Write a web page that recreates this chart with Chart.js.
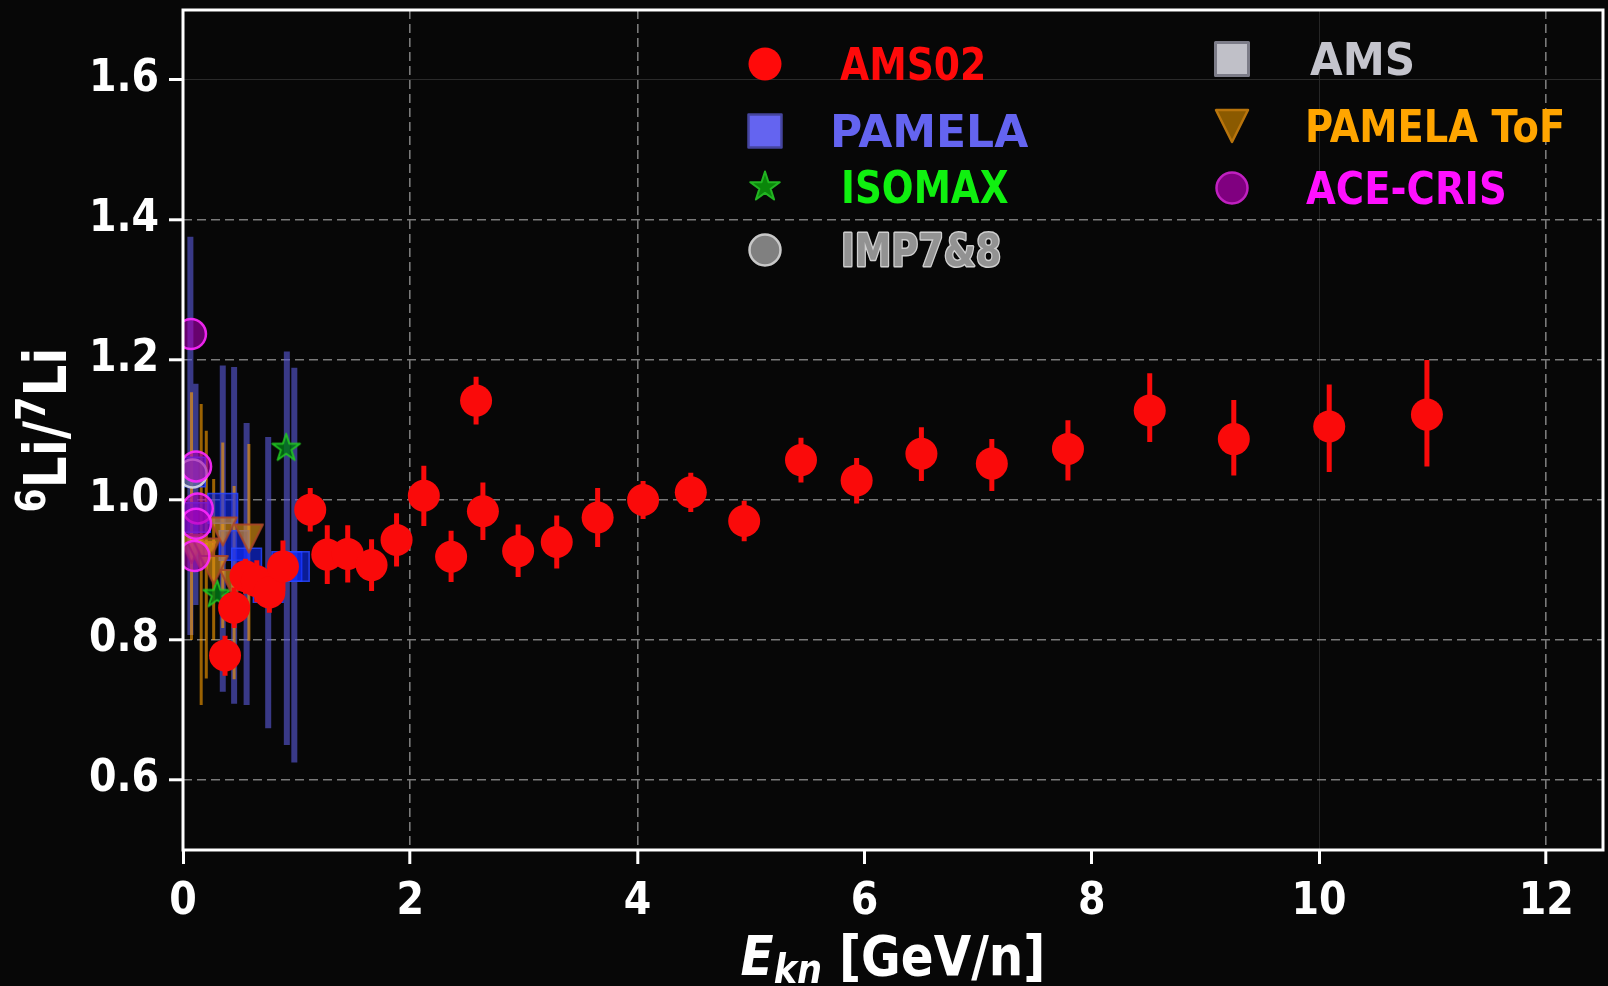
<!DOCTYPE html>
<html>
<head>
<meta charset="utf-8">
<title>6Li/7Li ratio</title>
<style>
  html, body { margin: 0; padding: 0; background: #070707; }
  #wrap { width: 1608px; height: 986px; position: relative; }
  canvas { display: block; }
</style>
<script src="https://cdn.jsdelivr.net/npm/chart.js@4.4.1/dist/chart.umd.min.js"></script>
</head>
<body>
<div id="wrap"><canvas id="chart" width="1608" height="986"></canvas></div>
<script>
// ---- measurements: kinetic energy per nucleon [GeV/n] and 6Li/7Li ----
const ams02E  = [0.37, 0.45, 0.55, 0.65, 0.76, 0.88, 1.12, 1.27, 1.45, 1.66, 1.88, 2.12, 2.36, 2.58, 2.64, 2.95, 3.29, 3.65, 4.05, 4.47, 4.94, 5.44, 5.93, 6.50, 7.12, 7.79, 8.51, 9.25, 10.09, 10.95];
const ams02R  = [0.778, 0.846, 0.891, 0.884, 0.868, 0.905, 0.986, 0.922, 0.923, 0.907, 0.943, 1.006, 0.919, 1.142, 0.984, 0.927, 0.940, 0.975, 1.000, 1.011, 0.970, 1.057, 1.028, 1.066, 1.052, 1.073, 1.128, 1.087, 1.105, 1.122];
const ams02Lo = [0.749, 0.817, 0.866, 0.854, 0.839, 0.870, 0.955, 0.880, 0.882, 0.870, 0.905, 0.963, 0.883, 1.108, 0.943, 0.890, 0.902, 0.933, 0.973, 0.983, 0.941, 1.025, 0.995, 1.027, 1.013, 1.028, 1.083, 1.035, 1.040, 1.048];
const ams02Hi = [0.806, 0.875, 0.916, 0.914, 0.897, 0.942, 1.017, 0.964, 0.964, 0.944, 0.981, 1.049, 0.956, 1.176, 1.025, 0.965, 0.978, 1.017, 1.027, 1.039, 0.999, 1.089, 1.060, 1.104, 1.087, 1.114, 1.181, 1.143, 1.165, 1.200];

const pamelaE  = [0.065, 0.11, 0.35, 0.45, 0.56, 0.75, 0.914, 0.98];
const pamelaR  = [1.040, 0.975, 0.988, 0.935, 0.910, 0.875, 0.905, 0.905];
const pamelaLo = [0.807, 0.850, 0.726, 0.709, 0.707, 0.674, 0.650, 0.625];
const pamelaHi = [1.376, 1.166, 1.192, 1.190, 1.110, 1.090, 1.212, 1.189];

const tofE  = [0.075, 0.16, 0.205, 0.27, 0.35, 0.45, 0.58];
const tofR  = [0.930, 0.920, 0.925, 0.900, 0.955, 0.880, 0.945];
const tofLo = [0.800, 0.707, 0.745, 0.800, 0.817, 0.744, 0.799];
const tofHi = [1.154, 1.137, 1.099, 1.030, 1.082, 1.020, 1.080];

const isomaxE = [0.30, 0.908];
const isomaxR = [0.865, 1.074];

const aceE = [0.07, 0.115, 0.13, 0.115, 0.10];
const aceR = [1.237, 1.048, 0.988, 0.966, 0.920];

const impE = [0.085];
const impR = [1.038];

const ams01E = [];
const ams01R = [];

// ---- axes ----
const xTicks = [0, 2, 4, 6, 8, 10, 12];
const yTicks = [0.6, 0.8, 1.0, 1.2, 1.4, 1.6];
const xDashed = [2, 4, 12];
const xFaint  = [10];
const yDashed = [0.6, 0.8, 1.0, 1.2, 1.4];
const yFaint  = [1.6];

// ---- helpers ----
const points = (xs, ys) => xs.map((x, i) => ({ x: x, y: ys[i] }));
// vertical error segments, separated by gaps
const errSegments = (xs, lo, hi) => xs.flatMap((x, i) => [{ x: x, y: lo[i] }, { x: x, y: hi[i] }, { x: x, y: null }]);
const inList = (list, v) => list.some(t => Math.abs(t - v) < 1e-6);

function starPath(g, cx, cy, R) {
  const r = R * 0.382;
  g.beginPath();
  for (let k = 0; k < 10; k++) {
    const ang = -Math.PI / 2 + k * Math.PI / 5;
    const rad = k % 2 === 0 ? R : r;
    const px = cx + rad * Math.cos(ang), py = cy + rad * Math.sin(ang);
    k === 0 ? g.moveTo(px, py) : g.lineTo(px, py);
  }
  g.closePath();
}
function downTrianglePath(g, cx, cy, s) {
  g.beginPath();
  g.moveTo(cx - s, cy - s);
  g.lineTo(cx + s, cy - s);
  g.lineTo(cx, cy + s);
  g.closePath();
}
function squarePath(g, cx, cy, half) {
  g.beginPath();
  g.rect(cx - half, cy - half, 2 * half, 2 * half);
}
function circlePath(g, cx, cy, r) {
  g.beginPath();
  g.arc(cx, cy, r, 0, Math.PI * 2);
}
function markerImage(size, pathFn, fill, stroke, lw) {
  const c = document.createElement('canvas');
  c.width = c.height = size;
  const g = c.getContext('2d');
  pathFn(g, size / 2, size / 2);
  g.fillStyle = fill; g.fill();
  g.lineWidth = lw; g.strokeStyle = stroke; g.lineJoin = 'round'; g.stroke();
  return c;
}

const starImg = markerImage(34, (g, cx, cy) => starPath(g, cx, cy, 14.5), 'rgba(0,120,20,0.8)', 'rgba(34,200,34,0.9)', 2);
const triImg  = markerImage(34, (g, cx, cy) => downTrianglePath(g, cx, cy, 14), 'rgba(228,150,20,0.62)', 'rgba(170,70,40,0.9)', 2);

// ---- text helpers (narrow bold lettering) ----
const FAMILY = '"DejaVu Sans", "Liberation Sans", sans-serif';
function textWidth(ctx, s, font, sq) { ctx.save(); ctx.font = font; const w = ctx.measureText(s).width * sq; ctx.restore(); return w; }
function squeezed(ctx, s, x, y, font, sq, color, outline) {
  ctx.save();
  ctx.font = font;
  ctx.translate(x, y);
  ctx.scale(sq, 1);
  ctx.textBaseline = 'alphabetic';
  ctx.textAlign = 'left';
  if (outline) {
    ctx.lineWidth = outline.width;
    ctx.strokeStyle = outline.color;
    ctx.lineJoin = 'round';
    ctx.strokeText(s, 0, 0);
  }
  ctx.fillStyle = color;
  ctx.fillText(s, 0, 0);
  ctx.restore();
}

// legend placement, keyed by series label (marker centre, text start, lettering width factor)
const LEGEND_SLOTS = {
  'AMS02':      { mx: 765,  my: 64,  tx: 840,  sq: 0.857 },
  'PAMELA':     { mx: 765,  my: 131, tx: 830,  sq: 1.0 },
  'ISOMAX':     { mx: 765,  my: 187, tx: 841,  sq: 0.85 },
  'IMP7&8':     { mx: 765,  my: 250, tx: 841,  sq: 0.835 },
  'AMS':        { mx: 1232, my: 59,  tx: 1310, sq: 0.96 },
  'PAMELA ToF': { mx: 1232, my: 126, tx: 1305, sq: 0.873 },
  'ACE-CRIS':   { mx: 1232, my: 188, tx: 1306, sq: 0.877 }
};

function drawLegendMarker(ctx, m, x, y) {
  ctx.save();
  if (m.shape === 'circle') circlePath(ctx, x, y, m.size);
  else if (m.shape === 'square') squarePath(ctx, x, y, m.size);
  else if (m.shape === 'star') starPath(ctx, x, y, m.size);
  else if (m.shape === 'triangle') downTrianglePath(ctx, x, y, m.size);
  ctx.fillStyle = m.fill; ctx.fill();
  if (m.stroke) { ctx.lineWidth = m.lw || 2; ctx.strokeStyle = m.stroke; ctx.lineJoin = 'round'; ctx.stroke(); }
  ctx.restore();
}

const decorPlugin = {
  id: 'decor',
  afterDraw(chart) {
    const { ctx, chartArea: a } = chart;

    // plot frame
    ctx.save();
    ctx.strokeStyle = '#ffffff';
    ctx.lineWidth = 3;
    ctx.strokeRect(a.left, a.top, a.right - a.left, a.bottom - a.top);
    ctx.restore();

    // x-axis title: E_kn [GeV/n]
    const sqX = 0.88;
    const fE = 'italic bold 55px ' + FAMILY;
    const fSub = 'italic bold 40px ' + FAMILY;
    const fMain = 'bold 55px ' + FAMILY;
    const xParts = [
      { t: 'E', f: fE, dy: 0 },
      { t: 'kn', f: fSub, dy: 8 },
      { t: ' [GeV/n]', f: fMain, dy: 0 }
    ];
    const xTot = xParts.reduce((s, p) => s + textWidth(ctx, p.t, p.f, sqX), 0);
    let cx = (a.left + a.right) / 2 - xTot / 2;
    const xBase = 975;
    xParts.forEach(p => { squeezed(ctx, p.t, cx, xBase + p.dy, p.f, sqX, '#ffffff'); cx += textWidth(ctx, p.t, p.f, sqX); });

    // y-axis title: 6Li/7Li with raised mass numbers
    const sqY = 0.85;
    const fLi = 'bold 59px ' + FAMILY;
    const fSup = 'bold 41px ' + FAMILY;
    const yParts = [
      { t: '6', f: fSup, dy: -21 },
      { t: 'Li/', f: fLi, dy: 0 },
      { t: '7', f: fSup, dy: -21 },
      { t: 'Li', f: fLi, dy: 0 }
    ];
    const yTot = yParts.reduce((s, p) => s + textWidth(ctx, p.t, p.f, sqY), 0);
    ctx.save();
    ctx.translate(66, (a.top + a.bottom) / 2);
    ctx.rotate(-Math.PI / 2);
    let lx = -yTot / 2;
    yParts.forEach(p => { squeezed(ctx, p.t, lx, p.dy, p.f, sqY, '#ffffff'); lx += textWidth(ctx, p.t, p.f, sqY); });
    ctx.restore();

    // legend
    chart.data.datasets.forEach(ds => {
      const slot = LEGEND_SLOTS[ds.label];
      if (!slot || !ds.legendMarker) return;
      drawLegendMarker(ctx, ds.legendMarker, slot.mx, slot.my);
      squeezed(ctx, ds.label, slot.tx, slot.my + 16, 'bold 44px ' + FAMILY, slot.sq, ds.legendText, ds.legendOutline);
    });
  }
};

const tickFont = { family: '"DejaVu Sans Condensed", "DejaVu Sans", sans-serif', weight: 'bold', size: 44 };

const errLine = (color, width, order) => ({
  type: 'line', borderColor: color, borderWidth: width, borderCapStyle: 'butt',
  pointRadius: 0, pointHoverRadius: 0, fill: false, spanGaps: false, tension: 0, order: order
});

new Chart(document.getElementById('chart'), {
  type: 'scatter',
  data: {
    datasets: [
      Object.assign({ label: 'PAMELA error', data: errSegments(pamelaE, pamelaLo, pamelaHi) }, errLine('rgba(88,88,215,0.62)', 6, 9)),
      Object.assign({ label: 'PAMELA ToF error', data: errSegments(tofE, tofLo, tofHi) }, errLine('rgba(255,160,0,0.6)', 3, 8)),
      {
        label: 'PAMELA', data: points(pamelaE, pamelaR), order: 7,
        pointStyle: 'rect', pointRadius: 21, pointHoverRadius: 21,
        backgroundColor: 'rgba(16,44,255,0.58)', borderColor: 'rgba(40,70,255,0.85)', borderWidth: 1.5,
        legendMarker: { shape: 'square', size: 16.5, fill: '#6464f0', stroke: '#45459e', lw: 2.5 }, legendText: '#6464f0'
      },
      {
        label: 'ISOMAX', data: points(isomaxE, isomaxR), order: 6.5,
        pointStyle: starImg, pointRadius: 14,
        legendMarker: { shape: 'star', size: 15.5, fill: '#0a860a', stroke: '#22b422', lw: 2 }, legendText: '#10f010'
      },
      {
        label: 'PAMELA ToF', data: points(tofE, tofR), order: 6,
        pointStyle: triImg, pointRadius: 14,
        legendMarker: { shape: 'triangle', size: 16, fill: '#8b5a00', stroke: '#b8740c', lw: 2.5 }, legendText: '#ffa500'
      },
      {
        label: 'IMP7&8', data: points(impE, impR), order: 4,
        pointStyle: 'circle', pointRadius: 14, pointHoverRadius: 14,
        backgroundColor: 'rgba(128,128,128,0.6)', borderColor: 'rgba(235,235,235,0.8)', borderWidth: 2.5,
        legendMarker: { shape: 'circle', size: 15.5, fill: '#808080', stroke: '#c8c8c8', lw: 2.5 },
        legendText: '#929292', legendOutline: { color: '#cfcfcf', width: 3 }
      },
      {
        label: 'AMS', data: points(ams01E, ams01R), order: 4,
        pointStyle: 'rect', pointRadius: 21,
        backgroundColor: 'rgba(192,192,200,0.7)', borderColor: '#808090', borderWidth: 2,
        legendMarker: { shape: 'square', size: 16.5, fill: '#c0c0c8', stroke: '#7c7c88', lw: 3 }, legendText: '#c4c4cc'
      },
      {
        label: 'ACE-CRIS', data: points(aceE, aceR), order: 3,
        pointStyle: 'circle', pointRadius: 15, pointHoverRadius: 15,
        backgroundColor: 'rgba(170,0,180,0.6)', borderColor: 'rgba(255,40,255,0.9)', borderWidth: 2.5,
        legendMarker: { shape: 'circle', size: 15.5, fill: '#800080', stroke: '#c020c0', lw: 2.5 }, legendText: '#ff10ff'
      },
      Object.assign({ label: 'AMS02 error', data: errSegments(ams02E, ams02Lo, ams02Hi) }, errLine('#fa0a0a', 5, 1)),
      {
        label: 'AMS02', data: points(ams02E, ams02R), order: 0,
        pointStyle: 'circle', pointRadius: 16, pointHoverRadius: 16,
        backgroundColor: '#fa0a0a', borderWidth: 0,
        legendMarker: { shape: 'circle', size: 16.5, fill: '#ff0a0a' }, legendText: '#ff0a0a'
      }
    ]
  },
  options: {
    responsive: false,
    animation: false,
    devicePixelRatio: 1,
    events: [],
    layout: { autoPadding: false, padding: { top: 10, right: 5, left: 0, bottom: 0 } },
    plugins: { legend: { display: false }, tooltip: { enabled: false } },
    scales: {
      x: {
        type: 'linear', min: 0, max: 12.5,
        afterBuildTicks: s => { s.ticks = xTicks.map(v => ({ value: v })); },
        afterFit: s => { s.height = 136; s.paddingLeft = 0; s.paddingRight = 0; },
        ticks: { color: '#ffffff', font: tickFont, padding: 12, autoSkip: false, maxRotation: 0, callback: v => String(v) },
        grid: {
          color: c => (c.tick && inList(xDashed, c.tick.value)) ? '#7a7a7a' : ((c.tick && inList(xFaint, c.tick.value)) ? '#262626' : 'rgba(0,0,0,0)'),
          lineWidth: c => (c.tick && inList(xDashed, c.tick.value)) ? 1.6 : 1,
          tickColor: '#ffffff', tickWidth: 3, tickLength: 14
        },
        border: { display: false, dash: c => (c.tick && inList(xDashed, c.tick.value)) ? [9, 5] : [] }
      },
      y: {
        type: 'linear', min: 0.5, max: 1.7, stacked: false,
        afterBuildTicks: s => { s.ticks = yTicks.map(v => ({ value: v })); },
        afterFit: s => { s.width = 183; s.paddingTop = 0; s.paddingBottom = 0; },
        ticks: { color: '#ffffff', font: tickFont, padding: 10, callback: v => Number(v).toFixed(1) },
        grid: {
          color: c => (c.tick && inList(yDashed, c.tick.value)) ? '#7a7a7a' : ((c.tick && inList(yFaint, c.tick.value)) ? '#2a2a2a' : 'rgba(0,0,0,0)'),
          lineWidth: c => (c.tick && inList(yDashed, c.tick.value)) ? 1.6 : 1,
          tickColor: '#ffffff', tickWidth: 3, tickLength: 14
        },
        border: { display: false, dash: c => (c.tick && inList(yDashed, c.tick.value)) ? [9, 5] : [] }
      }
    }
  },
  plugins: [decorPlugin]
});
</script>
</body>
</html>
